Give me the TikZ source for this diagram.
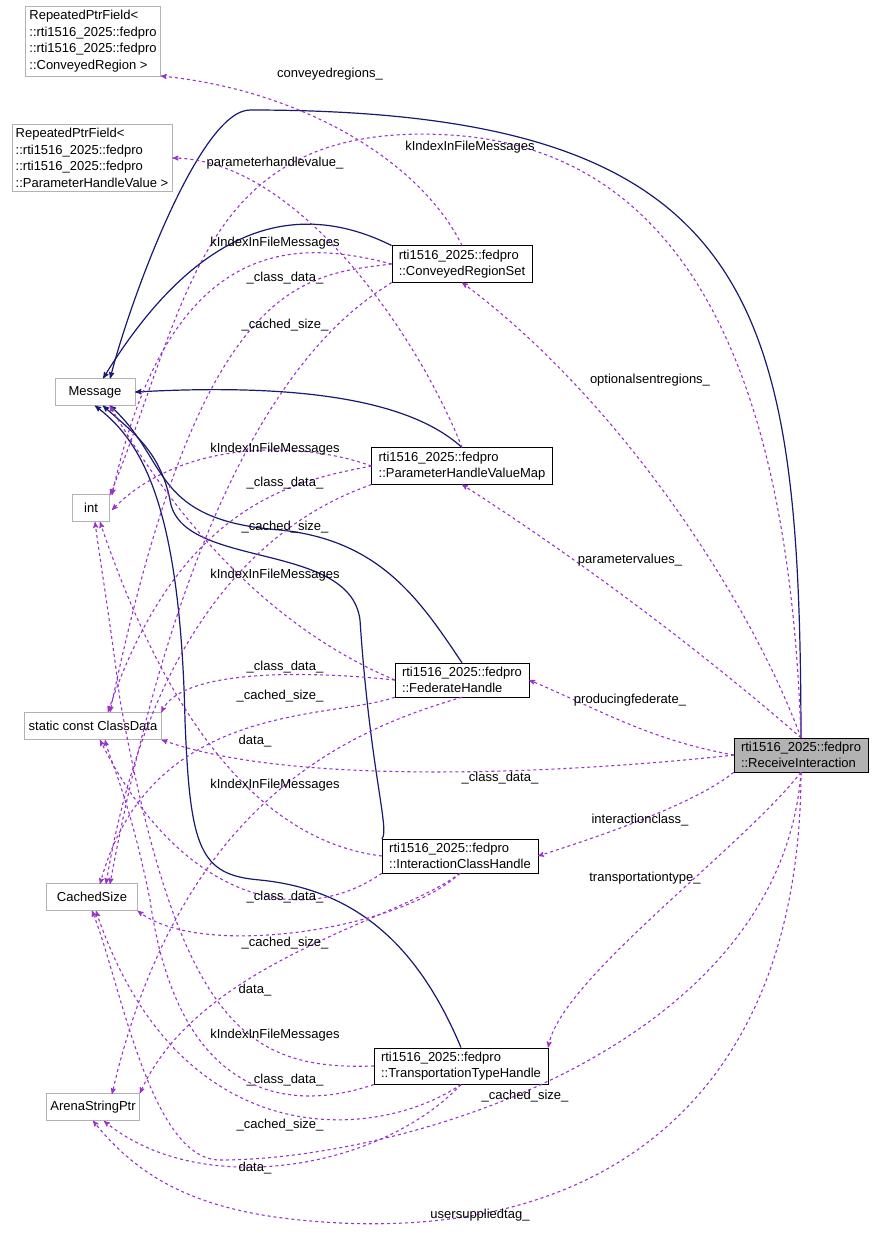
\documentclass[tikz,border=0pt]{standalone}
\usepackage{fontspec}
\setmainfont{Liberation Sans}
\usetikzlibrary{positioning, arrows}
\definecolor{depcol}{HTML}{9A32CD}
\definecolor{inhcol}{HTML}{191970}
\tikzset{>=stealth', every node/.style={font=\fontsize{13}{16.5}\selectfont},
	ext/.style={draw=gray!60, fill=white, align=left, inner sep=4pt},
	cls/.style={draw=black, fill=white, align=left, inner sep=4pt, inner xsep=7pt},
	inh/.style={draw=inhcol, line width=1.2pt, ->},
	dep/.style={draw=depcol, dashed, line width=1.1pt, ->},
	lbl/.style={inner sep=1pt}}
\begin{document}
\begin{tikzpicture}[x=1pt, y=-1pt]
	\useasboundingbox (0,0) rectangle (877,1253);
	% external classes
	\node[ext] (RPFcr) at (93,41) {RepeatedPtrField<\\ ::rti1516\_2025::fedpro\\ ::rti1516\_2025::fedpro\\ ::ConveyedRegion >};
	\node[ext] (RPFphv) at (92,158) {RepeatedPtrField<\\ ::rti1516\_2025::fedpro\\ ::rti1516\_2025::fedpro\\ ::ParameterHandleValue >};
	\node[ext, minimum width=80pt, minimum height=27pt] (Message) at (95,392) {Message};
	\node[ext, minimum width=37pt, minimum height=27pt] (int) at (91,508) {int};
	\node[ext, minimum height=27pt] (ClassData) at (93,726) {static const ClassData};
	\node[ext, minimum width=91pt, minimum height=27pt] (CachedSize) at (92,897) {CachedSize};
	\node[ext, minimum height=27pt] (Arena) at (93,1107) {ArenaStringPtr};
	% fedpro classes
	\node[cls] (CRS) at (462,264) {rti1516\_2025::fedpro\\ ::ConveyedRegionSet};
	\node[cls] (PHVM) at (462,466) {rti1516\_2025::fedpro\\ ::ParameterHandleValueMap};
	\node[cls] (FH) at (462,680) {rti1516\_2025::fedpro\\ ::FederateHandle};
	\node[cls] (ICH) at (460,856) {rti1516\_2025::fedpro\\ ::InteractionClassHandle};
	\node[cls] (TTH) at (461,1066) {rti1516\_2025::fedpro\\ ::TransportationTypeHandle};
	\node[cls, fill=gray!60] (RI) at (801,755) {rti1516\_2025::fedpro\\ ::ReceiveInteraction};

	% inheritance
	\draw[inh] (RI.north) .. controls (800,300) and (760,110) .. (250,110) .. controls (200,110) and (130,300) .. ([xshift=-25pt]Message.north east);
	\draw[inh] (CRS.north west) .. controls (300,200) and (200,220) .. ([xshift=-32pt]Message.north east);
	\draw[inh] (PHVM.north) .. controls (410,400) and (300,383) .. (Message.east);
	\draw[inh] (FH.north) .. controls (420,600) and (380,540) .. (280,530) .. controls (150,520) and (170,460) .. ([xshift=15pt]Message.south);
	\draw[inh] (ICH.north west) .. controls (390,830) and (370,770) .. (360,620) .. controls (350,540) and (180,570) .. (170,500) .. controls (160,450) and (130,430) .. ([xshift=8pt]Message.south);
	\draw[inh] (TTH.north) .. controls (420,950) and (360,890) .. (260,880) .. controls (200,875) and (190,850) .. (185,720) .. controls (180,500) and (140,440) .. (Message.south);

	% dependencies of ReceiveInteraction
	\draw[dep] (RI.north) .. controls (790,400) and (700,150) .. (450,135) .. controls (200,120) and (190,300) .. (110,495);
	\draw[dep] (RI.north) .. controls (750,600) and (620,400) .. (CRS.south);
	\draw[dep] (RI.north) .. controls (700,650) and (580,560) .. (PHVM.south);
	\draw[dep] (RI.west) .. controls (650,740) and (600,710) .. (FH.east);
	\draw[dep] (RI.west) .. controls (600,770) and (300,790) .. (ClassData.south east);
	\draw[dep] (RI.south west) .. controls (700,800) and (620,830) .. (ICH.east);
	\draw[dep] (RI.south) .. controls (740,850) and (560,980) .. (TTH.north east);
	\draw[dep] (RI.south) .. controls (780,1050) and (400,1160) .. (220,1160) .. controls (150,1160) and (120,980) .. (CachedSize.south);
	\draw[dep] (RI.south) .. controls (800,1100) and (600,1250) .. (300,1220) .. controls (200,1210) and (140,1180) .. (Arena.south);
	\node[lbl] at (470,147) {kIndexInFileMessages};
	\node[lbl] at (650,380) {optionalsentregions\_};
	\node[lbl] at (630,560) {parametervalues\_};
	\node[lbl] at (630,700) {producingfederate\_};
	\node[lbl] at (500,778) {\_class\_data\_};
	\node[lbl] at (640,820) {interactionclass\_};
	\node[lbl] at (645,878) {transportationtype\_};
	\node[lbl] at (525,1096) {\_cached\_size\_};
	\node[lbl] at (480,1215) {usersuppliedtag\_};

	% ConveyedRegionSet
	\draw[dep] (CRS.north) .. controls (420,160) and (300,90) .. (RPFcr.south east);
	\draw[dep] (CRS.west) .. controls (300,240) and (170,230) .. (112,495);
	\draw[dep] (CRS.west) .. controls (300,275) and (200,280) .. (110,712);
	\draw[dep] (CRS.south west) .. controls (350,310) and (200,400) .. (110,884);
	\node[lbl] at (330,74) {conveyedregions\_};
	\node[lbl] at (275,243) {kIndexInFileMessages};
	\node[lbl] at (285,278) {\_class\_data\_};
	\node[lbl] at (285,325) {\_cached\_size\_};

	% ParameterHandleValueMap
	\draw[dep] (PHVM.north) .. controls (420,340) and (300,160) .. (RPFphv.east);
	\draw[dep] (PHVM.west) .. controls (300,440) and (180,440) .. (112,510);
	\draw[dep] (PHVM.west) .. controls (300,480) and (180,500) .. (108,712);
	\draw[dep] (PHVM.south west) .. controls (330,500) and (160,560) .. (106,884);
	\node[lbl] at (275,163) {parameterhandlevalue\_};
	\node[lbl] at (275,449) {kIndexInFileMessages};
	\node[lbl] at (285,483) {\_class\_data\_};
	\node[lbl] at (285,527) {\_cached\_size\_};

	% FederateHandle
	\draw[dep] (FH.west) .. controls (300,640) and (200,560) .. (Message.south -| int.east);
	\draw[dep] (FH.west) .. controls (300,670) and (180,670) .. (ClassData.north east);
	\draw[dep] (FH.south west) .. controls (330,720) and (150,700) .. (100,884);
	\draw[dep] (FH.south) .. controls (350,730) and (180,800) .. (112,1094);
	\node[lbl] at (275,575) {kIndexInFileMessages};
	\node[lbl] at (285,667) {\_class\_data\_};
	\node[lbl] at (280,696) {\_cached\_size\_};
	\node[lbl] at (255,741) {data\_};

	% InteractionClassHandle
	\draw[dep] (ICH.west) .. controls (250,840) and (160,700) .. (100,522);
	\draw[dep] (ICH.south west) .. controls (300,930) and (180,900) .. (100,740);
	\draw[dep] (ICH.south) .. controls (400,930) and (200,960) .. (CachedSize.south east);
	\draw[dep] (ICH.south) .. controls (400,920) and (200,960) .. (Arena.north east);
	\node[lbl] at (275,785) {kIndexInFileMessages};
	\node[lbl] at (285,897) {\_class\_data\_};
	\node[lbl] at (285,943) {\_cached\_size\_};
	\node[lbl] at (255,990) {data\_};

	% TransportationTypeHandle
	\draw[dep] (TTH.west) .. controls (250,1070) and (180,1030) .. (120,700) .. controls (110,620) and (100,560) .. (95,522);
	\draw[dep] (TTH.south west) .. controls (300,1110) and (180,1110) .. (150,900) .. controls (130,800) and (110,760) .. (105,740);
	\draw[dep] (TTH.south) .. controls (380,1140) and (180,1160) .. (96,911);
	\draw[dep] (TTH.south) .. controls (380,1170) and (200,1200) .. (104,1121);
	\node[lbl] at (275,1035) {kIndexInFileMessages};
	\node[lbl] at (285,1080) {\_class\_data\_};
	\node[lbl] at (280,1125) {\_cached\_size\_};
	\node[lbl] at (255,1168) {data\_};
\end{tikzpicture}
\end{document}
